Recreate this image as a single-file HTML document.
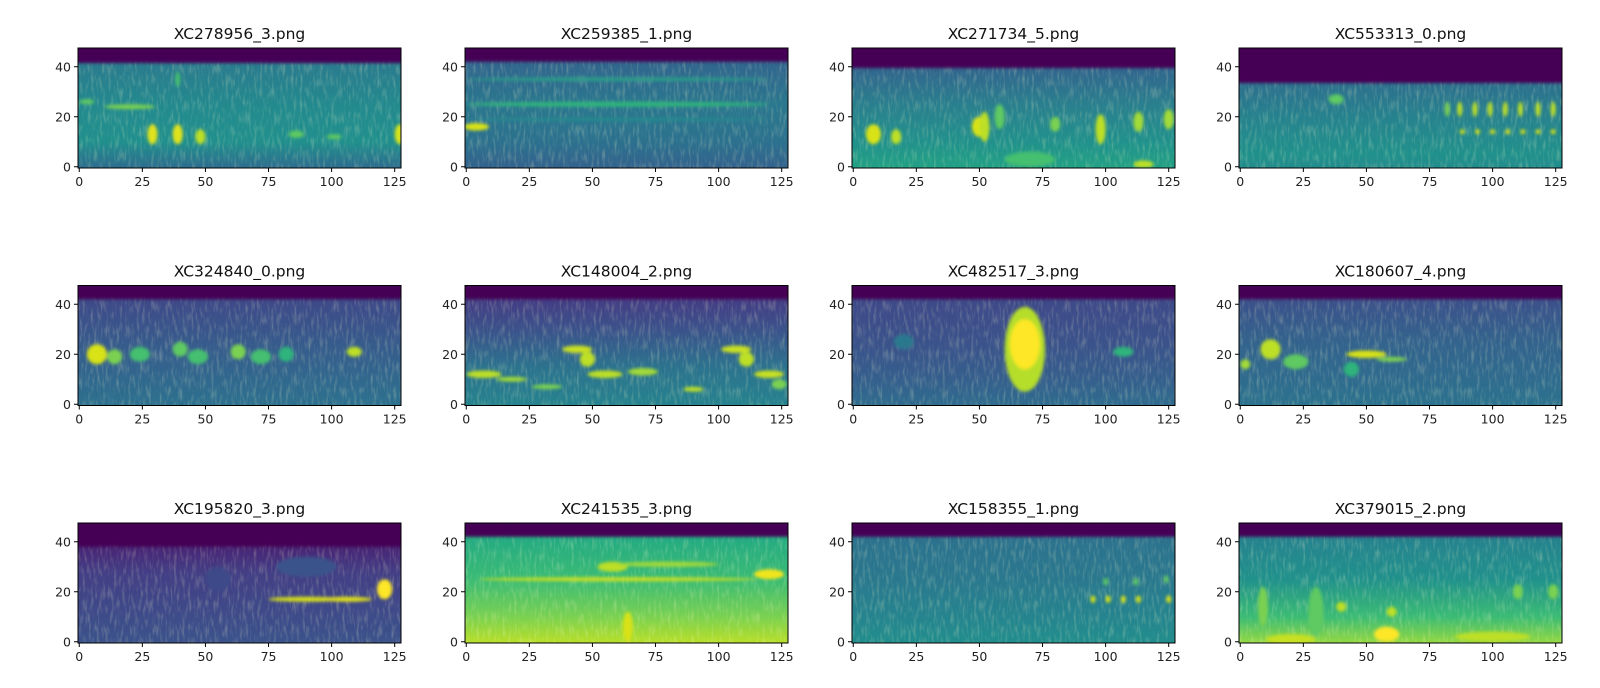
<!DOCTYPE html>
<html><head><meta charset="utf-8"><style>
html,body{margin:0;padding:0;background:#fff;}
svg{display:block;font-family:"DejaVu Sans","Liberation Sans",sans-serif;}
</style></head><body>
<svg id="fig" width="1600" height="688" viewBox="0 0 1600 688" xmlns="http://www.w3.org/2000/svg">
<defs>
<filter id="bl" x="-50%" y="-50%" width="200%" height="200%"><feGaussianBlur stdDeviation="1.6"/></filter>
<filter id="nz" x="0" y="0" width="100%" height="100%"><feTurbulence type="fractalNoise" baseFrequency="0.35 0.08" numOctaves="2" seed="3"/><feColorMatrix type="matrix" values="0 0 0 0 1  0 0 0 0 1  0 0 0 0 0.6  0 0 0 1.6 -0.75"/></filter>
</defs>
</svg>
<script>
var titles = ["XC278956_3.png","XC259385_1.png","XC271734_5.png","XC553313_0.png","XC324840_0.png","XC148004_2.png","XC482517_3.png","XC180607_4.png","XC195820_3.png","XC241535_3.png","XC158355_1.png","XC379015_2.png"];
var xTicks = [0,25,50,75,100,125];
var yTicks = [0,20,40];
// dark band lower edge (frequency bin)
var bandEdge = [41.5,42,39.5,33.5,42,42,42,42,38,42,42,42];
// body gradient stops: [freq, color]
var bodyStops = [
 [[41,"#2a7b8e"],[25,"#23898e"],[10,"#21908d"],[0,"#2c6e8e"]],
 [[41,"#31668e"],[25,"#2a778e"],[10,"#2c718e"],[0,"#33638d"]],
 [[39,"#31668e"],[25,"#2a7f8e"],[10,"#21918c"],[0,"#22a085"]],
 [[33,"#2d708e"],[20,"#26828e"],[5,"#21918c"],[0,"#228c8d"]],
 [[41,"#3e4a89"],[25,"#375a8c"],[10,"#31688e"],[0,"#2d708e"]],
 [[41,"#433e85"],[30,"#3b528b"],[15,"#2c728e"],[0,"#26828e"]],
 [[41,"#3e4a89"],[25,"#3b528b"],[10,"#355f8d"],[0,"#2f6b8e"]],
 [[41,"#3b528b"],[25,"#33638d"],[10,"#2f6b8e"],[0,"#2c728e"]],
 [[38,"#482475"],[28,"#433e85"],[12,"#3e4a89"],[0,"#3b528b"]],
 [[41,"#25ab82"],[25,"#3bbb75"],[10,"#7ad151"],[0,"#b5de2b"]],
 [[41,"#2c728e"],[25,"#2a788e"],[10,"#25848e"],[0,"#228d8d"]],
 [[41,"#25838e"],[25,"#21918c"],[10,"#3bbb75"],[0,"#8fd744"]]
];
// blobs per panel: [x, freq, rx(bins), ry(bins), color]
var blobs = [
 [[29,13,2,4,"#e0e31c"],[39,13,2,4,"#e0e31c"],[48,12,2,3,"#bddf26"],[127,13,2,4,"#d4e21a"],[20,24,10,1,"#7ad151"],[3,26,3,1,"#5ec962"],[39,35,1,3,"#44bf70"],[86,13,3,1.5,"#5ec962"],[101,12,3,1,"#5ec962"]],
 [[4,16,5,1.5,"#d8e219"],[60,25,60,1,"#2fb47c"],[60,35,60,0.8,"#2a9c89"],[60,19,60,0.8,"#25888e"]],
 [[8,13,3,4,"#d8e219"],[17,12,2,3,"#bddf26"],[50,16,3,4,"#d8e219"],[52,16,2,6,"#bddf26"],[58,20,2,5,"#5ec962"],[80,17,2,3,"#7ad151"],[98,15,2,6,"#bddf26"],[113,18,2,4,"#a2da37"],[125,19,2,4,"#a2da37"],[70,3,10,3,"#44bf70"],[115,1,4,1.5,"#bddf26"]],
 [[38,27,3,2,"#5ec962"],[82,23,1,3,"#7ad151"],[87,23,1,3,"#bddf26"],[93,23,1,3,"#bddf26"],[99,23,1,3,"#bddf26"],[105,23,1,3,"#bddf26"],[111,23,1,3,"#bddf26"],[118,23,1,3,"#bddf26"],[124,23,1,3,"#bddf26"],[88,14,1,1,"#d8e219"],[94,14,1,1,"#d8e219"],[100,14,1,1,"#d8e219"],[106,14,1,1,"#d8e219"],[112,14,1,1,"#d8e219"],[118,14,1,1,"#d8e219"],[124,14,1,1,"#d8e219"]],
 [[7,20,4,4,"#d8e219"],[14,19,3,3,"#7ad151"],[24,20,4,3,"#44bf70"],[40,22,3,3,"#5ec962"],[47,19,4,3,"#44bf70"],[63,21,3,3,"#7ad151"],[72,19,4,3,"#44bf70"],[109,21,3,2,"#bddf26"],[82,20,3,3,"#2fb47c"]],
 [[7,12,7,1.5,"#bddf26"],[18,10,6,1,"#a2da37"],[44,22,6,1.5,"#c8e020"],[48,18,3,3,"#bddf26"],[55,12,7,1.5,"#bddf26"],[70,13,6,1.5,"#a2da37"],[32,7,6,1,"#7ad151"],[90,6,4,1,"#bddf26"],[107,22,6,1.5,"#c8e020"],[111,18,3,3,"#bddf26"],[120,12,6,1.5,"#c8e020"],[124,8,3,2,"#7ad151"]],
 [[68,22,8,17,"#b5de2b"],[68,24,6,10,"#fde725"],[20,25,4,3,"#2a788e"],[107,21,4,2,"#2fb47c"]],
 [[12,22,4,4,"#bddf26"],[22,17,5,3,"#5ec962"],[50,20,8,1.5,"#d8e219"],[60,18,6,1,"#7ad151"],[2,16,2,2,"#a2da37"],[44,14,3,3,"#2fb47c"]],
 [[90,17,15,1,"#d8e219"],[106,17,10,1,"#e5e419"],[121,21,3,4,"#fde725"],[90,30,12,4,"#3b528b"],[55,25,5,5,"#3e4a89"]],
 [[58,30,6,2,"#bddf26"],[80,31,20,1,"#a2da37"],[60,25,55,0.8,"#c8e020"],[120,27,6,2,"#f0e51c"],[64,6,2,6,"#d8e219"]],
 [[95,17,1,1.5,"#d8e219"],[101,17,1,1.5,"#d8e219"],[107,17,1,1.5,"#d8e219"],[113,17,1,1.5,"#d8e219"],[125,17,1,1.5,"#d8e219"],[100,24,1,1.5,"#5ec962"],[112,24,1,1.5,"#5ec962"],[124,25,1,1.5,"#5ec962"]],
 [[9,14,2,8,"#7ad151"],[30,12,3,10,"#5ec962"],[58,3,5,3,"#fde725"],[40,14,2,2,"#bddf26"],[60,12,2,2,"#bddf26"],[100,2,15,2,"#bddf26"],[20,1,10,2,"#c8e020"],[110,20,2,3,"#7ad151"],[124,20,2,3,"#7ad151"]]
];
var NS = "http://www.w3.org/2000/svg";
var svg = document.getElementById("fig");
var colL = [78,465,852,1239], rowT = [48,285.5,523], W = 323, H = 120;
function mk(tag, attrs, parent){ var e=document.createElementNS(NS,tag); for(var k in attrs) e.setAttribute(k,attrs[k]); (parent||svg).appendChild(e); return e; }
for (var p=0;p<12;p++){
  var L = colL[p%4], T = rowT[Math.floor(p/4)];
  var sx = function(v){ return L + (v+0.5)/128*W; };
  var sy = function(v){ return T + (47.5-v)/48*H; };
  var g = mk("g",{});
  
  
  var cp = mk("clipPath",{id:"c"+p}); mk("rect",{x:L,y:T,width:W,height:H},cp);
  var gr = mk("linearGradient",{id:"g"+p,x1:0,y1:T,x2:0,y2:T+H,gradientUnits:"userSpaceOnUse"});
  bodyStops[p].forEach(function(s){ mk("stop",{offset:((sy(s[0])-T)/H),"stop-color":s[1]},gr); });
  var inner = mk("g",{"clip-path":"url(#c"+p+")"},g);
  mk("rect",{x:L,y:T,width:W,height:H,fill:"url(#g"+p+")"},inner);
  mk("rect",{x:L,y:T,width:W,height:H,filter:"url(#nz)",opacity:0.35},inner);
  var bg = mk("g",{filter:"url(#bl)"},inner);
  blobs[p].forEach(function(b){
    var e = mk("ellipse",{cx:sx(b[0]),cy:sy(b[1]),rx:b[2]*W/128,ry:b[3]*H/48,fill:b[4]},bg);
    
    
  });
  var band = mk("rect",{x:L-2,y:T-2,width:W+4,height:sy(bandEdge[p])-T+2,fill:"#440154",filter:"url(#bl)"},inner);
  
  
  var fr = mk("rect",{x:L,y:T,width:W,height:H,fill:"none",stroke:"#000","stroke-width":1},g);
  
  
  xTicks.forEach(function(t){
    var x=sx(t); mk("line",{x1:x,y1:T+H,x2:x,y2:T+H+4,stroke:"#000"},g);
    var tx = mk("text",{x:x,y:T+H+18,"font-size":12.5,"text-anchor":"middle",fill:"#222"},g); tx.textContent=t;
    
    
  });
  yTicks.forEach(function(t){
    var y=sy(t); mk("line",{x1:L-4,y1:y,x2:L,y2:y,stroke:"#000"},g);
    var ty = mk("text",{x:L-7,y:y+4.5,"font-size":12.5,"text-anchor":"end",fill:"#222"},g); ty.textContent=t;
    
    
  });
  var ti = mk("text",{x:L+W/2,y:T-9,"font-size":15.5,"text-anchor":"middle",fill:"#111"},g); ti.textContent=titles[p];
  
  
}
</script>
</body></html>
